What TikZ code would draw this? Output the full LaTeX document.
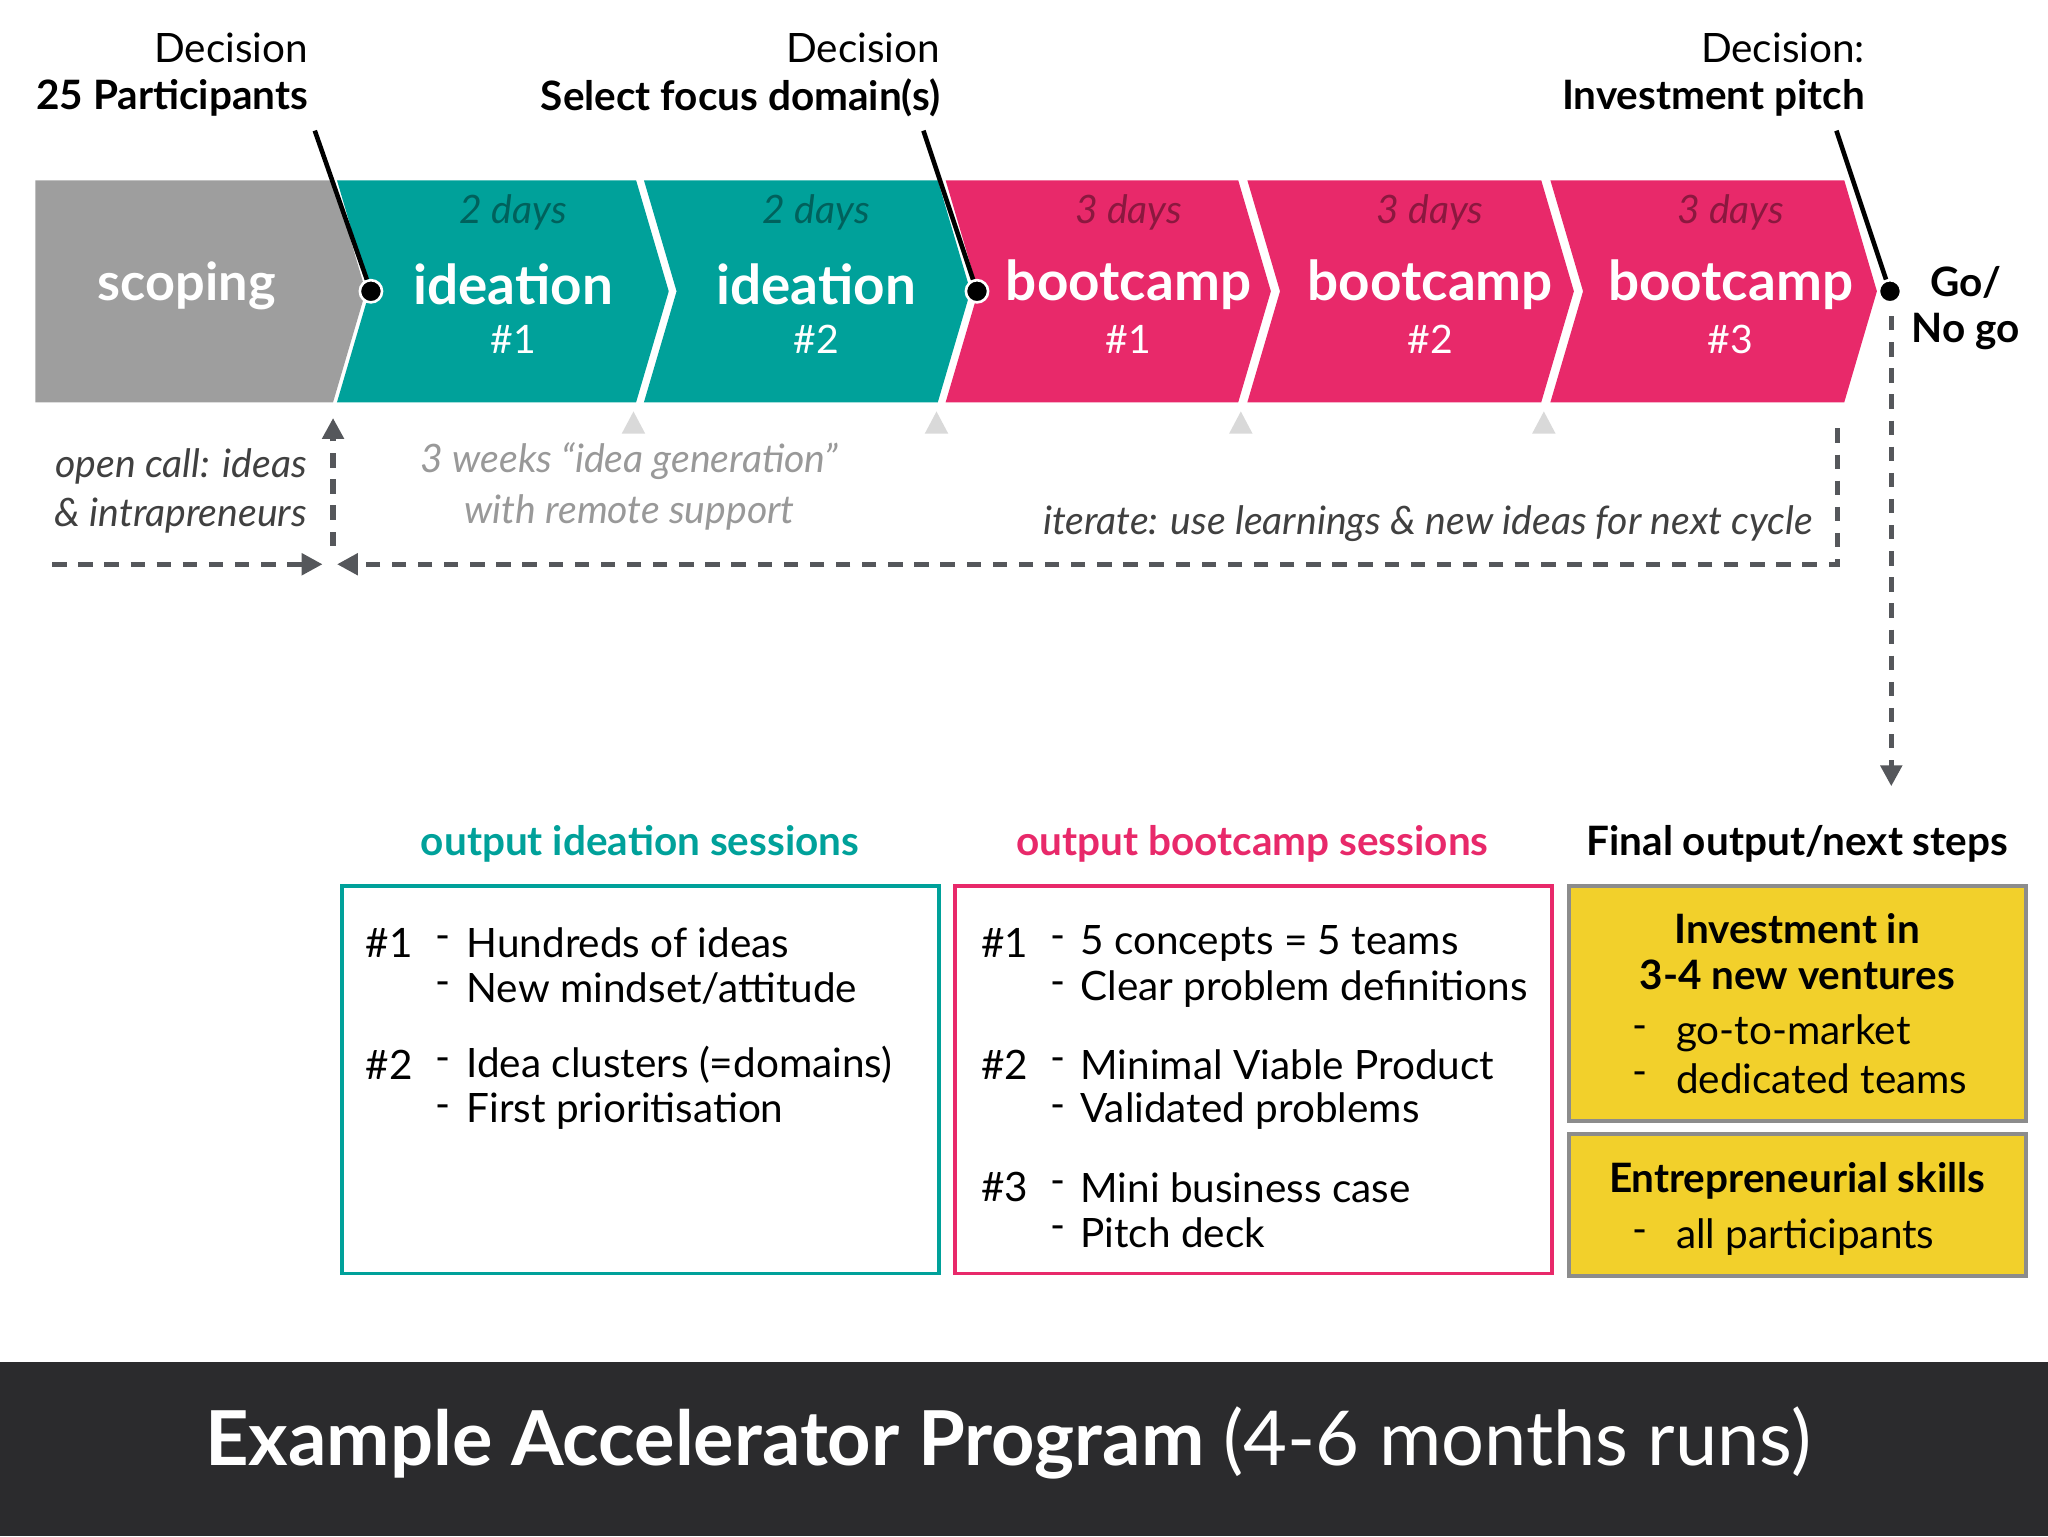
\documentclass[tikz,border=0pt]{standalone}
\usepackage{fontspec}
\setmainfont{Lato}
\usetikzlibrary{arrows.meta}
\definecolor{tealc}{HTML}{00A19A}
\definecolor{pinkc}{HTML}{E8296A}
\definecolor{grayc}{HTML}{9E9E9E}
\definecolor{dashc}{HTML}{55575B}
\definecolor{yell}{HTML}{F2D02B}
\definecolor{foot}{HTML}{2B2B2D}
\newcommand{\fs}[1]{\fontsize{#1}{#1}\selectfont}
\tikzset{
 dsh/.style={draw=dashc,line width=4pt,dash pattern=on 11pt off 9pt,-{Triangle[length=16pt,width=16pt]}},
 dec/.style={black,line width=3.5pt},
 dot/.style={circle,fill=black,draw=white,line width=2pt,inner sep=0pt,minimum size=17pt},
 tri/.style={fill=black!15},
 txt/.style={inner sep=0pt},
}
\newcommand{\chev}[3]{\fill[#3] (#1,138)--(#2,138)--(#2+25,223)--(#2,308)--(#1,308)--(#1+25,223)--cycle;}
\begin{document}
\begin{tikzpicture}[x=1pt,y=-1pt]
\useasboundingbox (0,0) rectangle (1568,1176);
\fill[grayc] (27,138)--(255,138)--(280,223)--(255,308)--(27,308)--cycle;
\chev{258}{487}{tealc}
\chev{493}{718}{tealc}
\chev{724}{948}{pinkc}
\chev{955}{1180}{pinkc}
\chev{1187}{1412}{pinkc}
\node[txt,white,font=\fs{40}\bfseries] (sc) at (143,219) {scoping};
\foreach \x/\n/\d/\c/\w in {393/1/2/tealc/ideation,625/2/2/tealc/ideation,864/1/3/pinkc/bootcamp,1095/2/3/pinkc/bootcamp,1325/3/3/pinkc/bootcamp}{
 \node[txt,\c!60!black,font=\fs{30}\itshape] at (\x,163) {\d\ days};
 \node[txt,white,font=\fs{42}\bfseries] at (\x,218) {\w};
 \node[txt,white,font=\fs{30}] at (\x,260) {\#\n};
}
% decisions
\node[txt,anchor=east,font=\fs{31}] at (236,37) {Decision};
\node[txt,anchor=east,font=\fs{31}\bfseries] at (236,75) {25 Participants};
\node[txt,anchor=east,font=\fs{31}] at (720,37) {Decision};
\node[txt,anchor=east,font=\fs{31}\bfseries] at (720,75) {Select focus domain(s)};
\node[txt,anchor=east,font=\fs{31}] at (1428,37) {Decision:};
\node[txt,anchor=east,font=\fs{31}\bfseries] at (1428,75) {Investment pitch};
\node[dot] (d1) at (284,223) {};
\node[dot] (d2) at (748,223) {};
\node[dot] (d3) at (1447,223) {};
\coordinate (t1) at (241,100); \coordinate (t2) at (707,100); \coordinate (t3) at (1406,100);
\draw[dec] (t1)--(d1); \draw[dec] (t2)--(d2); \draw[dec] (t3)--(d3);
\node[txt,font=\fs{31}\bfseries,align=center] at (1505,236) {Go/\\[4pt]No go};
% triangles
\foreach \x in {485,717,950,1182}{\fill[black!15] (\x-9,332)--(\x,315)--(\x+9,332)--cycle;}
% texts
\node[txt,anchor=east,font=\fs{30}\itshape,text=black!75] at (235,357) {open call: ideas};
\node[txt,anchor=east,font=\fs{30}\itshape,text=black!75] at (235,395) {\& intrapreneurs};
\node[txt,font=\fs{30}\itshape,text=black!40] at (482,353) {3 weeks “idea generation”};
\node[txt,font=\fs{30}\itshape,text=black!40] at (482,392) {with remote support};
\node[txt,anchor=east,font=\fs{30}\itshape,text=black!75] at (1388,401) {iterate: use learnings \& new ideas for next cycle};
% dashed
\coordinate (a0) at (255,418); \coordinate (a1) at (255,320);
\draw[dsh] (a0)--(a1);
\coordinate (b0) at (40,432); \coordinate (b1) at (247,432);
\draw[dsh] (b0)--(b1);
\coordinate (c0) at (1407,328); \coordinate (c1) at (1407,432); \coordinate (c2) at (258,432);
\draw[dsh] (c0)--(c1)--(c2);
\coordinate (e0) at (1448,242); \coordinate (e1) at (1448,602);
\draw[dsh] (e0)--(e1);
% bottom headings
\node[txt,font=\fs{31}\bfseries,text=tealc] at (490,646) {output ideation sessions};
\node[txt,font=\fs{31}\bfseries,text=pinkc] at (959,646) {output bootcamp sessions};
\node[txt,font=\fs{31}\bfseries] at (1376,646) {Final output/next steps};
\draw[tealc,line width=3pt] (262,678) rectangle (719,975);
\draw[pinkc,line width=3pt] (731,678) rectangle (1188,975);
\draw[black!45,line width=3pt,fill=yell] (1201,678) rectangle (1551,858);
\draw[black!45,line width=3pt,fill=yell] (1201,868) rectangle (1551,977);
\tikzset{bt/.style={txt,anchor=west,font=\fs{31}}}
\node[bt] at (280,722) {\#1}; \node[bt] at (333,722) {-}; \node[bt] at (357,722) {Hundreds of ideas};
\node[bt] at (333,757) {-}; \node[bt] at (357,757) {New mindset/attitude};
\node[bt] at (280,815) {\#2}; \node[bt] at (333,815) {-}; \node[bt] at (357,815) {Idea clusters (=domains)};
\node[bt] at (333,851) {-}; \node[bt] at (357,851) {First prioritisation};
\node[bt] at (751,722) {\#1}; \node[bt] at (804,722) {-}; \node[bt] at (827,722) {5 concepts = 5 teams};
\node[bt] at (804,757) {-}; \node[bt] at (827,757) {Clear problem definitions};
\node[bt] at (751,815) {\#2}; \node[bt] at (804,815) {-}; \node[bt] at (827,815) {Minimal Viable Product};
\node[bt] at (804,851) {-}; \node[bt] at (827,851) {Validated problems};
\node[bt] at (751,909) {\#3}; \node[bt] at (804,909) {-}; \node[bt] at (827,909) {Mini business case};
\node[bt] at (804,944) {-}; \node[bt] at (827,944) {Pitch deck};
\node[txt,font=\fs{31}\bfseries] at (1376,711) {Investment in};
\node[txt,font=\fs{31}\bfseries] at (1376,746) {3-4 new ventures};
\node[bt] at (1250,791) {-}; \node[bt] at (1283,791) {go-to-market};
\node[bt] at (1250,826) {-}; \node[bt] at (1283,826) {dedicated teams};
\node[txt,font=\fs{31}\bfseries] at (1376,904) {Entrepreneurial skills};
\node[bt] at (1250,947) {-}; \node[bt] at (1283,947) {all participants};
% footer
\fill[foot] (0,1043) rectangle (1568,1176);
\node[txt,white,font=\fs{58}] (ft) at (772,1105) {\textbf{Example Accelerator Program} (4-6 months runs)};
\end{tikzpicture}
\end{document}
